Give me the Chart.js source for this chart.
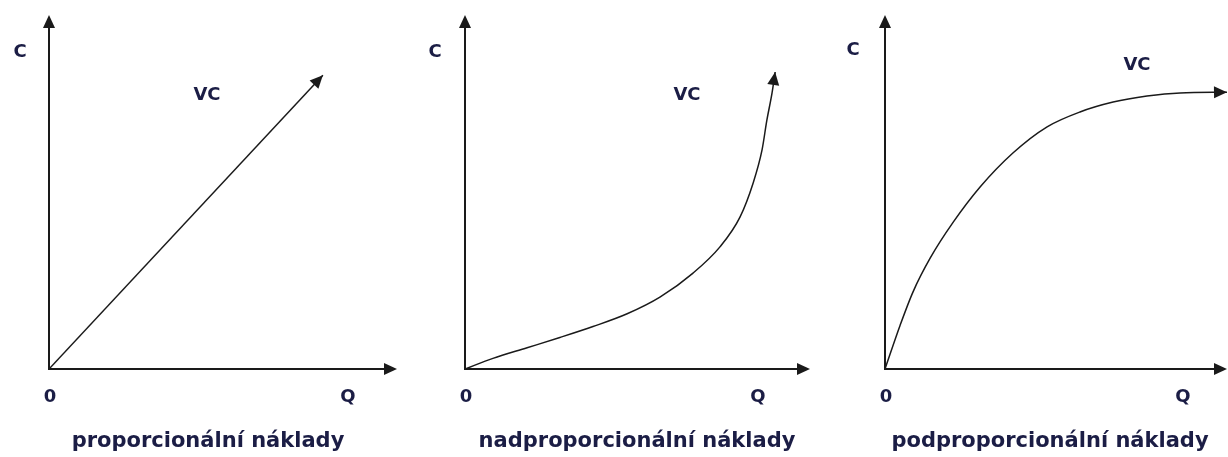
<!DOCTYPE html>
<html>
<head>
<meta charset="utf-8">
<script src="https://cdn.jsdelivr.net/npm/chart.js@4"></script>
<style>
  body { margin: 0; background: #fff; width: 1228px; height: 457px; overflow: hidden; }
  canvas { position: absolute; top: 0; }
</style>
</head>
<body>
<canvas id="c1" width="410" height="457" style="left:0"></canvas>
<canvas id="c2" width="410" height="457" style="left:410px"></canvas>
<canvas id="c3" width="408" height="457" style="left:820px"></canvas>
<script>
// Q (output) and C (cost), axes scaled 0..100
const linearQ = [0, 78.7];
const linearC = [0, 83];

const superQ = [0, 8.1, 18.0, 27.5, 37.1, 47.0, 56.5, 66.1, 73.9, 79.7, 83.5, 86.1, 87.5, 89.0, 89.9];
const superC = [0, 3.0, 6.0, 8.9, 12.0, 15.6, 20.3, 27.1, 34.5, 42.9, 52.5, 61.9, 70.3, 78.0, 83.9];

const subQ = [0, 4.4, 8.2, 13.2, 19.9, 27.8, 37.4, 47.4, 57.0, 66.7, 76.6, 86.3, 100];
const subC = [0, 12.3, 21.8, 31.3, 41.4, 51.4, 61.0, 68.4, 72.6, 75.4, 77.1, 78.0, 78.2];

const titles = ['proporcionální náklady', 'nadproporcionální náklady', 'podproporcionální náklady'];

const ink = '#1b1d45';
const lineColor = '#1a1a1a';

function toPoints(xs, ys) {
    return xs.map((x, i) => ({ x: x, y: ys[i] }));
}

function arrowHead(ctx, x0, y0, x1, y1, len, half) {
    const a = Math.atan2(y1 - y0, x1 - x0);
    ctx.beginPath();
    ctx.moveTo(x1, y1);
    ctx.lineTo(x1 - len * Math.cos(a) + half * Math.sin(a), y1 - len * Math.sin(a) - half * Math.cos(a));
    ctx.lineTo(x1 - len * Math.cos(a) - half * Math.sin(a), y1 - len * Math.sin(a) + half * Math.cos(a));
    ctx.closePath();
    ctx.fill();
}

// axes, arrow tips and text labels
const decorPlugin = {
    id: 'decor',
    afterDatasetsDraw(chart, args, opts) {
        const { ctx, chartArea: a, scales } = chart;
        ctx.save();
        ctx.strokeStyle = lineColor;
        ctx.fillStyle = lineColor;
        ctx.lineWidth = 2;
        ctx.beginPath();
        ctx.moveTo(a.left, a.top + 6);
        ctx.lineTo(a.left, a.bottom);
        ctx.lineTo(a.right - 6, a.bottom);
        ctx.stroke();
        arrowHead(ctx, a.left, a.bottom, a.left, a.top, 13, 6);
        arrowHead(ctx, a.left, a.bottom, a.right, a.bottom, 13, 6);

        // arrow at the curve's end
        const pts = chart.data.datasets[0].data;
        const p0 = pts[pts.length - 2], p1 = pts[pts.length - 1];
        arrowHead(ctx,
            scales.x.getPixelForValue(p0.x), scales.y.getPixelForValue(p0.y),
            scales.x.getPixelForValue(p1.x), scales.y.getPixelForValue(p1.y), 13, 6);

        ctx.fillStyle = ink;
        ctx.textAlign = 'center';
        ctx.textBaseline = 'middle';
        ctx.font = 'bold 18px "DejaVu Sans"';
        ctx.fillText('C', opts.c[0], opts.c[1]);
        ctx.fillText('VC', opts.vc[0], opts.vc[1]);
        ctx.fillText('0', a.left + 1, a.bottom + 28);
        ctx.fillText('Q', opts.q, a.bottom + 28);
        ctx.font = 'bold 21px "DejaVu Sans"';
        ctx.fillText(opts.title, opts.titleX, 442);
        ctx.restore();
    }
};

function makePanel(id, xs, ys, padding, labels, curved) {
    new Chart(document.getElementById(id), {
        type: 'scatter',
        data: {
            datasets: [{
                data: toPoints(xs, ys),
                showLine: true,
                borderColor: lineColor,
                borderWidth: 1.5,
                pointRadius: 0,
                tension: curved ? 0.4 : 0,
                cubicInterpolationMode: curved ? 'monotone' : 'default'
            }]
        },
        options: {
            responsive: false,
            animation: false,
            layout: { padding: padding },
            plugins: {
                legend: { display: false },
                tooltip: { enabled: false },
                decor: labels
            },
            scales: {
                x: { type: 'linear', min: 0, max: 100, display: false },
                y: { type: 'linear', min: 0, max: 100, display: false }
            }
        },
        plugins: [decorPlugin]
    });
}

makePanel('c1', linearQ, linearC, { left: 49, right: 13, top: 15, bottom: 88 },
    { c: [20, 52], vc: [207, 95], q: 348, title: titles[0], titleX: 208 }, false);
makePanel('c2', superQ, superC, { left: 55, right: 10, top: 15, bottom: 88 },
    { c: [25, 52], vc: [277, 95], q: 348, title: titles[1], titleX: 227 }, true);
makePanel('c3', subQ, subC, { left: 65, right: 1, top: 15, bottom: 88 },
    { c: [33, 50], vc: [317, 65], q: 363, title: titles[2], titleX: 230 }, true);
</script>
</body>
</html>
